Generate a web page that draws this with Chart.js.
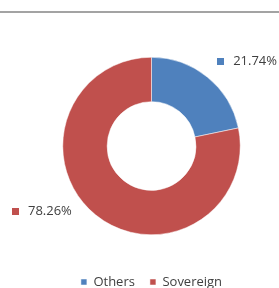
<!DOCTYPE html>
<html>
<head>
<meta charset="utf-8">
<script src="https://cdn.jsdelivr.net/npm/chart.js@4/dist/chart.umd.min.js"></script>
<style>
  html, body { margin: 0; padding: 0; background: #fff; }
  #wrap { position: relative; width: 279px; height: 288px; }
  #rule { position: absolute; left: 0; top: 11px; width: 279px; height: 2px; background: #a3a3a3; }
  canvas { position: absolute; left: 0; top: 0; }
</style>
</head>
<body>
<div id="wrap">
  <canvas id="mychart" width="279" height="288"></canvas>
  <div id="rule"></div>
</div>
<script>
const categories = ["Others", "Sovereign"];
const shares = [21.74, 78.26];
const colors = ["#4F81BD", "#C0504D"];

// etiquetas con su cuadrito de color, fuera del anillo
const labelPlugin = {
  id: "sliceLabels",
  afterDatasetsDraw(chart, args, opts) {
    const ctx = chart.ctx;
    const meta = chart.getDatasetMeta(0);
    ctx.save();
    ctx.font = "13px 'Open Sans'";
    ctx.textBaseline = "middle";
    meta.data.forEach((arc, i) => {
      const p = arc.getProps(["x", "y", "startAngle", "endAngle", "outerRadius"], true);
      const mid = (p.startAngle + p.endAngle) / 2;
      const r = p.outerRadius + opts.distance;
      const off = opts.offsets[i];
      let x = p.x + Math.cos(mid) * r + off[0];
      const y = p.y + Math.sin(mid) * r + off[1];
      const text = shares[i].toFixed(2) + "%";
      const tw = ctx.measureText(text).width;
      if (Math.cos(mid) < 0) x = x - tw - 16;
      ctx.fillStyle = colors[i];
      ctx.fillRect(Math.round(x), Math.round(y - 3.5), 7, 7);
      ctx.fillStyle = "#404040";
      ctx.textAlign = "left";
      ctx.fillText(text, x + 16, y);
    });
    ctx.restore();
  },
};

new Chart(document.getElementById("mychart"), {
  type: "doughnut",
  data: {
    labels: categories,
    datasets: [
      {
        data: shares,
        backgroundColor: colors,
        borderColor: "#ffffff",
        borderWidth: 0.5,
        hoverOffset: 0,
      },
    ],
  },
  options: {
    responsive: false,
    animation: false,
    cutout: "50%",
    layout: { padding: { left: 62, right: 38, top: 57, bottom: -10.5 } },
    plugins: {
      tooltip: { enabled: false },
      sliceLabels: { distance: 20, offsets: [[-3, 0], [-11, -19]] },
      legend: {
        position: "bottom",
        title: { display: true, text: "", font: { size: 12 }, padding: { top: 11.1, bottom: 0 } },
        labels: {
          boxWidth: 6,
          boxHeight: 6,
          padding: 15,
          color: "#404040",
          font: { family: "'Open Sans'", size: 13 },
        },
      },
    },
  },
  plugins: [labelPlugin],
});
</script>
</body>
</html>
